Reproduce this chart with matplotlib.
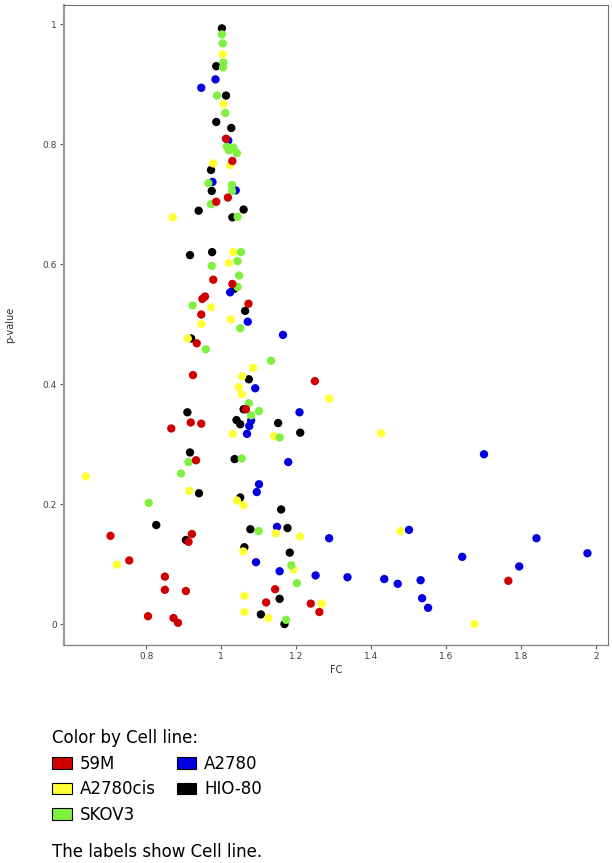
import matplotlib.pyplot as plt
from matplotlib.patches import Patch

plt.switch_backend("Agg")

# cell lines and their colours
cell_lines = ["59M", "A2780cis", "SKOV3", "A2780", "HIO-80"]
colors = {
    "59M": "#d00000",
    "A2780cis": "#ffff33",
    "SKOV3": "#80f040",
    "A2780": "#0000e0",
    "HIO-80": "#000000",
}

fc_59m = [1.013, 1.030, 1.018, 0.987, 0.979, 1.030, 0.957, 0.950, 1.073, 0.947,
          0.935, 0.925, 1.250, 1.066, 0.919, 0.947, 0.867, 0.933, 0.705, 0.922,
          0.913, 0.755, 0.850, 0.850, 0.906, 0.805, 0.873, 0.885, 1.144, 1.120,
          1.239, 1.262, 1.766]
p_59m = [0.809, 0.772, 0.711, 0.704, 0.574, 0.567, 0.546, 0.542, 0.534, 0.516,
         0.468, 0.415, 0.405, 0.358, 0.336, 0.334, 0.326, 0.273, 0.147, 0.150,
         0.137, 0.106, 0.079, 0.057, 0.055, 0.013, 0.010, 0.002, 0.058, 0.036,
         0.034, 0.020, 0.072]

fc_a2780cis = [1.004, 1.006, 0.979, 1.024, 0.871, 1.033, 1.021, 0.973, 1.026, 0.947,
               0.911, 1.085, 1.056, 1.047, 1.055, 1.288, 1.031, 1.141, 1.427, 0.639,
               0.915, 1.042, 1.060, 1.146, 1.211, 1.479, 1.059, 0.722, 1.193, 1.062,
               1.062, 1.126, 1.268, 1.676]
p_a2780cis = [0.950, 0.867, 0.768, 0.765, 0.678, 0.620, 0.602, 0.528, 0.508, 0.500,
              0.476, 0.427, 0.413, 0.395, 0.383, 0.376, 0.317, 0.313, 0.318, 0.246,
              0.222, 0.206, 0.198, 0.151, 0.146, 0.155, 0.121, 0.099, 0.091, 0.047,
              0.020, 0.010, 0.034, 0.000]

fc_skov3 = [1.002, 1.004, 1.006, 1.005, 0.989, 1.011, 1.015, 1.021, 1.033, 1.042,
            0.966, 1.029, 1.029, 0.973, 1.044, 1.053, 0.975, 1.044, 1.048, 1.044,
            0.924, 1.051, 0.959, 1.133, 1.074, 1.101, 1.080, 1.156, 0.913, 1.055,
            0.893, 0.807, 1.100, 1.187, 1.202, 1.173]
p_skov3 = [0.983, 0.968, 0.936, 0.928, 0.881, 0.852, 0.796, 0.790, 0.794, 0.785,
           0.735, 0.732, 0.722, 0.700, 0.679, 0.620, 0.597, 0.605, 0.581, 0.562,
           0.531, 0.493, 0.458, 0.439, 0.368, 0.355, 0.348, 0.311, 0.270, 0.276,
           0.251, 0.202, 0.155, 0.098, 0.068, 0.007]

fc_a2780 = [0.985, 0.947, 1.019, 0.977, 1.039, 1.024, 1.071, 1.165, 1.091, 1.080,
            1.075, 1.069, 1.209, 1.179, 1.701, 1.101, 1.095, 1.149, 1.501, 1.288,
            1.093, 1.156, 1.252, 1.337, 1.435, 1.471, 1.532, 1.536, 1.552, 1.643,
            1.795, 1.841, 1.977]
p_a2780 = [0.908, 0.894, 0.806, 0.737, 0.723, 0.553, 0.504, 0.482, 0.393, 0.339,
           0.330, 0.317, 0.353, 0.270, 0.283, 0.233, 0.220, 0.162, 0.157, 0.143,
           0.103, 0.088, 0.081, 0.078, 0.075, 0.067, 0.073, 0.043, 0.027, 0.112,
           0.096, 0.143, 0.118]

fc_hio80 = [1.002, 0.987, 1.013, 0.987, 1.027, 0.973, 0.975, 0.940, 1.060, 1.030,
            0.917, 0.976, 1.035, 1.064, 0.920, 1.074, 1.060, 0.910, 1.041, 1.051,
            1.152, 1.211, 0.917, 1.036, 0.941, 1.051, 1.160, 0.827, 1.078, 1.177,
            0.906, 1.062, 1.183, 1.156, 1.106, 1.169]
p_hio80 = [0.993, 0.930, 0.881, 0.837, 0.827, 0.757, 0.722, 0.689, 0.691, 0.678,
           0.615, 0.620, 0.559, 0.522, 0.476, 0.408, 0.358, 0.353, 0.340, 0.333,
           0.335, 0.319, 0.286, 0.275, 0.218, 0.211, 0.191, 0.165, 0.158, 0.160,
           0.140, 0.128, 0.119, 0.042, 0.016, 0.000]

series = {
    "59M": (fc_59m, p_59m),
    "A2780cis": (fc_a2780cis, p_a2780cis),
    "SKOV3": (fc_skov3, p_skov3),
    "A2780": (fc_a2780, p_a2780),
    "HIO-80": (fc_hio80, p_hio80),
}

x_ticks = [0.8, 1.0, 1.2, 1.4, 1.6, 1.8, 2.0]
x_tick_labels = ["0.8", "1", "1.2", "1.4", "1.6", "1.8", "2"]
y_ticks = [0.0, 0.2, 0.4, 0.6, 0.8, 1.0]
y_tick_labels = ["0", "0.2", "0.4", "0.6", "0.8", "1"]


def main() -> None:
    plt.rcParams["font.family"] = ["DejaVu Sans"]
    fig = plt.figure(figsize=(6.12, 8.63), dpi=100)
    ax = fig.add_axes([0.1046, 0.2526, 0.8884, 0.7416])

    for name in ["HIO-80", "A2780", "A2780cis", "SKOV3", "59M"]:
        fc, p = series[name]
        ax.scatter(fc, p, s=36, color=colors[name], edgecolors="none", zorder=3)

    ax.set_xlim(0.581, 2.031)
    ax.set_ylim(-0.035, 1.032)
    ax.set_xticks(x_ticks)
    ax.set_xticklabels(x_tick_labels)
    ax.set_yticks(y_ticks)
    ax.set_yticklabels(y_tick_labels)
    ax.tick_params(direction="out", length=3, width=0.8, color="#606060",
                   labelsize=6.5, labelcolor="#404040", pad=2)
    ax.spines["left"].set_color("#999999")
    ax.spines["left"].set_linewidth(1.6)
    ax.spines["bottom"].set_color("#888888")
    ax.spines["bottom"].set_linewidth(1.0)
    for side in ["top", "right"]:
        ax.spines[side].set_color("#707070")
        ax.spines[side].set_linewidth(0.8)

    ax.set_xlabel("FC", fontsize=7, color="#303030", labelpad=3)
    ax.set_ylabel("p-value", fontsize=7, color="#303030")
    ax.yaxis.set_label_coords(-0.09, 0.5)

    handles = [Patch(facecolor=colors[n], edgecolor="black", linewidth=0.8)
               for n in cell_lines]
    fig.legend(handles, cell_lines, ncol=2, frameon=False,
               loc="upper left", bbox_to_anchor=(39 / 612, 1 - 716 / 863),
               title="Color by Cell line:", title_fontsize=12, fontsize=12,
               alignment="left", handlelength=1.15, handleheight=0.72,
               handletextpad=0.5, columnspacing=1.25, labelspacing=0.45,
               borderpad=0.3)
    fig.text(52 / 612, 1 - 852 / 863, "The labels show Cell line.",
             fontsize=12, va="center", ha="left")

    fig.savefig("out.png", dpi=100)
    plt.close(fig)


if __name__ == "__main__":
    main()
